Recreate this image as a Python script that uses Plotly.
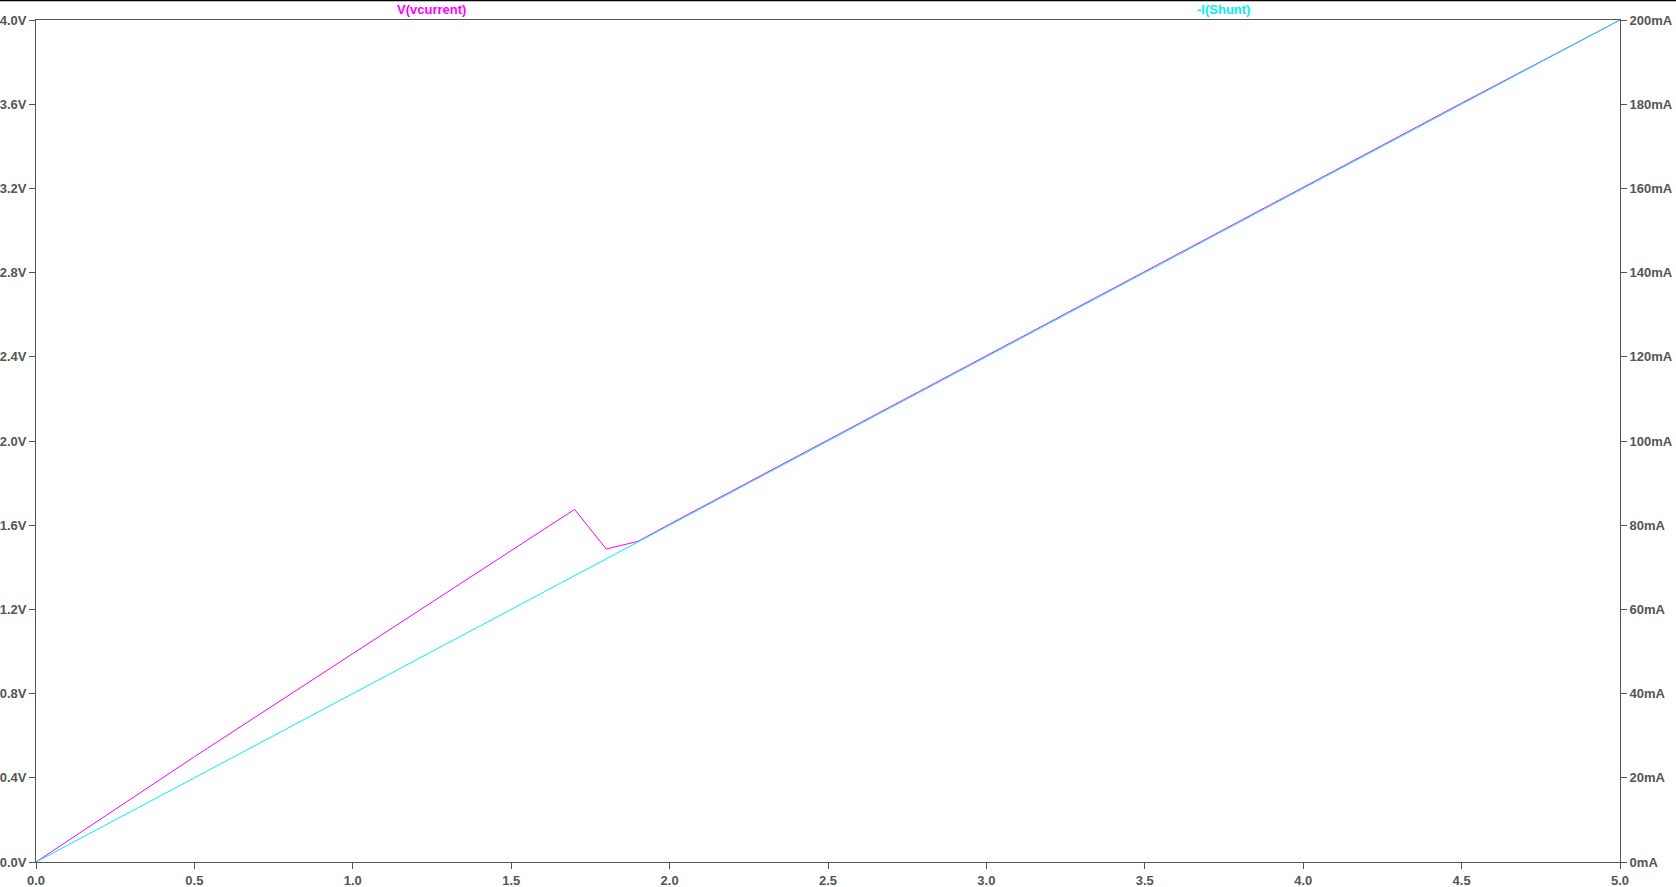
import plotly.graph_objects as go

# --- data ---
vcurrent_x = [0.0, 0.5, 1.0, 1.5, 1.7, 1.8, 1.9, 2.0, 2.5, 3.0, 3.5, 4.0, 4.5, 5.0]
vcurrent_v = [0.0, 0.50, 0.99, 1.48, 1.675, 1.487, 1.523, 1.605, 2.005, 2.405, 2.805, 3.205, 3.605, 4.0]

shunt_x = [0.0, 0.5, 1.0, 1.5, 1.7, 1.9, 2.0, 2.5, 3.0, 3.5, 4.0, 4.5, 5.0]
shunt_ma = [0.0, 20.0, 40.0, 60.0, 68.0, 76.0, 80.0, 100.0, 120.0, 140.0, 160.0, 180.0, 200.0]

x_ticks = [0.0, 0.5, 1.0, 1.5, 2.0, 2.5, 3.0, 3.5, 4.0, 4.5, 5.0]
x_labels = ["0.0", "0.5", "1.0", "1.5", "2.0", "2.5", "3.0", "3.5", "4.0", "4.5", "5.0"]
v_ticks = [0.0, 0.4, 0.8, 1.2, 1.6, 2.0, 2.4, 2.8, 3.2, 3.6, 4.0]
v_labels = ["0.0V", "0.4V", "0.8V", "1.2V", "1.6V", "2.0V", "2.4V", "2.8V", "3.2V", "3.6V", "4.0V"]
i_ticks = [0, 20, 40, 60, 80, 100, 120, 140, 160, 180, 200]
i_labels = ["0mA", "20mA", "40mA", "60mA", "80mA", "100mA", "120mA", "140mA", "160mA", "180mA", "200mA"]

series_names = ["V(vcurrent)", "-I(Shunt)"]
MAGENTA = "#FF00FF"
CYAN = "#00F0F0"
AXIS = "#555555"

W, H = 1676, 887
L, R, T, B = 36, 56, 20, 25
pw, ph = W - L - R, H - T - B

fig = go.Figure()
fig.add_trace(go.Scatter(x=shunt_x, y=shunt_ma, mode="lines", yaxis="y2",
                         line=dict(color=CYAN, width=1), name=series_names[1]))
fig.add_trace(go.Scatter(x=vcurrent_x, y=vcurrent_v, mode="lines",
                         line=dict(color=MAGENTA, width=1), name=series_names[0]))

FAM = "Liberation Sans, Arial, sans-serif"
font = dict(family=FAM, size=13, color=AXIS)

fig.update_layout(
    width=W, height=H,
    margin=dict(l=L, r=R, t=T, b=B, pad=0, autoexpand=False),
    paper_bgcolor="white", plot_bgcolor="white",
    showlegend=False,
    xaxis=dict(range=[0, 5], tickvals=x_ticks, ticktext=["<b>%s</b>" % t for t in x_labels],
               showgrid=False, zeroline=False, showline=True, linecolor=AXIS, linewidth=1,
               mirror=True, ticks="outside", ticklen=6, tickcolor=AXIS, tickfont=font,
               automargin=False),
    yaxis=dict(range=[0, 4], tickvals=v_ticks, ticktext=["<b>%s</b>" % t for t in v_labels],
               showgrid=False, zeroline=False, showline=True, linecolor=AXIS, linewidth=1,
               mirror=True, ticks="outside", ticklen=6, tickcolor=AXIS, tickfont=font,
               automargin=False),
    yaxis2=dict(range=[0, 200], tickvals=i_ticks, ticktext=["<b>%s</b>" % t for t in i_labels],
                overlaying="y", side="right", showgrid=False, zeroline=False,
                showline=False, ticks="outside", ticklen=6, tickcolor=AXIS, tickfont=font,
                automargin=False),
)

def px_to_paper_x(px):
    return (px - L) / pw

def py_to_paper_y(py):
    return (H - B - py) / ph

fig.add_annotation(text="<b>%s</b>" % series_names[0], x=px_to_paper_x(431), y=py_to_paper_y(10),
                   xref="paper", yref="paper", showarrow=False, xanchor="center", yanchor="middle",
                   font=dict(family=FAM, size=13, color=MAGENTA))
fig.add_annotation(text="<b>%s</b>" % series_names[1], x=px_to_paper_x(1223), y=py_to_paper_y(10),
                   xref="paper", yref="paper", showarrow=False, xanchor="center", yanchor="middle",
                   font=dict(family=FAM, size=13, color=CYAN))

fig.add_shape(type="line", xref="paper", yref="paper",
              x0=px_to_paper_x(0), x1=px_to_paper_x(W), y0=py_to_paper_y(0.5), y1=py_to_paper_y(0.5),
              line=dict(color="black", width=1.5))

fig.write_html("out.html", config={"displayModeBar": False},
               post_script="document.body.style.margin='0';document.body.style.overflow='hidden';")
